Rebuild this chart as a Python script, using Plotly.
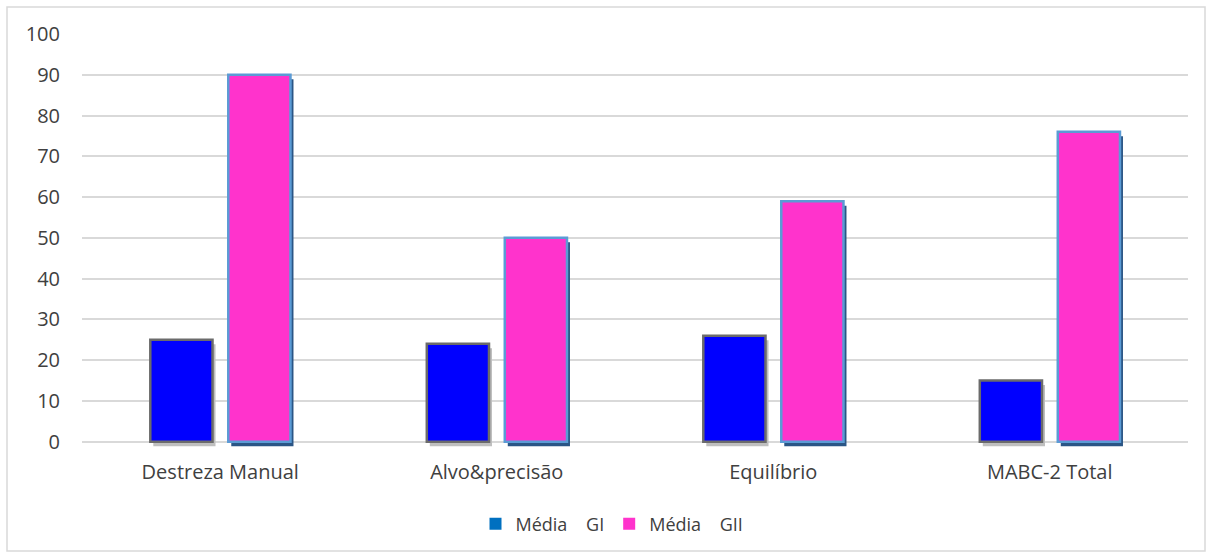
import plotly.graph_objects as go

categories = ["Destreza Manual", "Alvo&precisão", "Equilíbrio", "MABC-2 Total"]
media_gi = [25, 24, 26, 15]
media_gii = [90, 50, 59, 76]
y_ticks = [0, 10, 20, 30, 40, 50, 60, 70, 80, 90, 100]

W, H = 1212, 558
Y_TOP_PX, Y_ZERO_PX = 34, 442          # pixel rows of 100 and 0
UNIT = (Y_ZERO_PX - Y_TOP_PX) / 100.0  # px per data unit
Y_MIN = -1.3                           # room for shadows below the baseline
ML, MR, MT = 82, 24, Y_TOP_PX
MB = H - int(round(Y_ZERO_PX - Y_MIN * UNIT))
pw = W - ML - MR
ph = H - MT - MB


def px_x(px):
    return (px - ML) / pw


def px_y(py):
    return (H - MB - py) / ph


BAR_W = 0.225
OFF_GI = -0.253
OFF_GII = 0.029
SH_DX = 3 / pw * 4      # shadow horizontal shift (category units)
SH_DY = 1.1             # shadow vertical shift (data units)

fig = go.Figure()

# soft drop shadows under each bar
fig.add_trace(go.Bar(
    x=categories, y=media_gi, base=[-SH_DY] * len(media_gi),
    width=BAR_W, offset=OFF_GI + SH_DX,
    marker=dict(color="#bfbfbf", line=dict(width=0)),
    showlegend=False, hoverinfo="skip"))
fig.add_trace(go.Bar(
    x=categories, y=media_gii, base=[-SH_DY] * len(media_gii),
    width=BAR_W, offset=OFF_GII + SH_DX,
    marker=dict(color="#2a5585", line=dict(width=0)),
    showlegend=False, hoverinfo="skip"))

# main bars
fig.add_trace(go.Bar(
    x=categories, y=media_gi, width=BAR_W, offset=OFF_GI,
    marker=dict(color="#0000ff", line=dict(color="#6b6b6b", width=2.5)),
    showlegend=False))
fig.add_trace(go.Bar(
    x=categories, y=media_gii, width=BAR_W, offset=OFF_GII,
    marker=dict(color="#ff33cc", line=dict(color="#5b9bd5", width=2.5)),
    showlegend=False))

# legend entries
fig.add_trace(go.Bar(x=[None], y=[None], name="Média    GI",
                     marker=dict(color="#0070c0", line=dict(width=0))))
fig.add_trace(go.Bar(x=[None], y=[None], name="Média    GII",
                     marker=dict(color="#ff33cc", line=dict(width=0))))

fig.update_layout(
    width=W, height=H,
    margin=dict(l=ML, r=MR, t=MT, b=MB, pad=0),
    barmode="overlay",
    paper_bgcolor="white", plot_bgcolor="white",
    font=dict(family="Open Sans, Liberation Sans, sans-serif", color="#404040"),
    legend=dict(orientation="h", x=px_x(612), xanchor="center",
                y=px_y(524), yanchor="middle",
                font=dict(size=18, color="#404040"),
                itemwidth=30, traceorder="normal"),
    xaxis=dict(showgrid=False, showline=False, zeroline=False,
               tickfont=dict(size=20, color="#404040"),
               ticks="", ticklabelstandoff=11),
    yaxis=dict(range=[Y_MIN, 100], tickvals=y_ticks, showgrid=True,
               gridcolor="#d9d9d9", gridwidth=1.5,
               zeroline=True, zerolinecolor="#d9d9d9", zerolinewidth=1.5,
               showline=False, ticks="",
               tickfont=dict(size=20, color="#404040"),
               ticklabelstandoff=21),
    shapes=[dict(type="rect", xref="paper", yref="paper",
                 x0=px_x(7), x1=px_x(1205),
                 y0=px_y(551), y1=px_y(7),
                 line=dict(color="#d9d9d9", width=1.5), layer="below")],
)

fig.write_html("out.html")
